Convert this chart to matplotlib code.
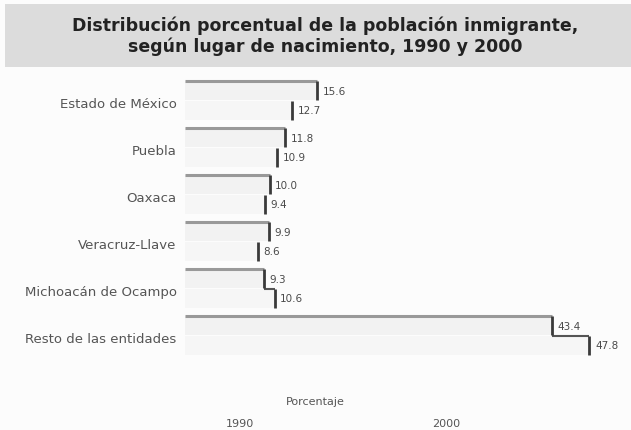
import numpy as np
import matplotlib
matplotlib.use("Agg")
import matplotlib.pyplot as plt
from matplotlib.patches import Rectangle

plt.rcParams['font.family'] = ['DejaVu Sans']

estados = ["Estado de México", "Puebla", "Oaxaca", "Veracruz-Llave",
           "Michoacán de Ocampo", "Resto de las entidades"]
v1990 = [15.6, 11.8, 10.0, 9.9, 9.3, 43.4]
v2000 = [12.7, 10.9, 9.4, 8.6, 10.6, 47.8]
l1990 = ["15.6", "11.8", "10.0", "9.9", "9.3", "43.4"]
l2000 = ["12.7", "10.9", "9.4", "8.6", "10.6", "47.8"]

fig = plt.figure(figsize=(6.31, 4.31), dpi=100)
fig.patch.set_facecolor("#fcfcfc")

# title band
fig.patches.append(Rectangle((0.008, 1 - 68/431), 0.992, 63/431, transform=fig.transFigure,
                             facecolor="#dcdcdc", edgecolor="none", zorder=0))
fig.text(0.516, 1 - 26/431, "Distribución porcentual de la población inmigrante,",
         ha="center", va="center", fontsize=12.5, fontweight="bold", color="#222222")
fig.text(0.516, 1 - 47/431, "según lugar de nacimiento, 1990 y 2000",
         ha="center", va="center", fontsize=12.5, fontweight="bold", color="#222222")

ax = fig.add_axes([185/631, 1 - 361.5/431, 440/631, 282/431])
ax.set_facecolor("none")
y = np.arange(len(estados))
h = 0.4
y90 = y - 0.24
y00 = y + 0.18

ax.barh(y90, v1990, height=h, color="#f2f2f2", edgecolor="none")
ax.barh(y00, v2000, height=h, color="#f6f6f6", edgecolor="none")
# top edges
ax.hlines(y90 - h/2, 0, v1990, color="#999999", lw=2.2)
v90 = np.array(v1990)
v00 = np.array(v2000)
up = v00 > v90
ax.hlines((y00 - h/2)[up], v90[up], v00[up], color="#555555", lw=1.5)
# dark ends
ax.vlines(v1990, y90 - h/2, y90 + h/2, color="#3a3a3a", lw=2)
ax.vlines(v2000, y00 - h/2, y00 + h/2, color="#3a3a3a", lw=2)

for yy, v, t in zip(y90, v1990, l1990):
    ax.annotate(t, (v, yy), xytext=(4, 0), textcoords="offset points",
                va="center", ha="left", fontsize=7.5, color="#4a4a4a")
for yy, v, t in zip(y00, v2000, l2000):
    ax.annotate(t, (v, yy), xytext=(4, 0), textcoords="offset points",
                va="center", ha="left", fontsize=7.5, color="#4a4a4a")

ax.set_xlim(0, 52)
ax.set_ylim(len(estados) - 0.5, -0.5)
ax.set_yticks(y)
ax.set_yticklabels(estados, fontsize=9.5, color="#555555")
ax.tick_params(axis="y", length=0, pad=6)
ax.set_xticks([])
for s in ax.spines.values():
    s.set_visible(False)

fig.text(315/631, 1 - 402/431, "Porcentaje", ha="center", va="center",
         fontsize=8, color="#555555")
fig.text(240/631, 1 - 424/431, "1990", ha="center", va="center",
         fontsize=8, color="#555555")
fig.text(446/631, 1 - 424/431, "2000", ha="center", va="center",
         fontsize=8, color="#555555")

fig.savefig("out.png", dpi=100, facecolor=fig.get_facecolor())
